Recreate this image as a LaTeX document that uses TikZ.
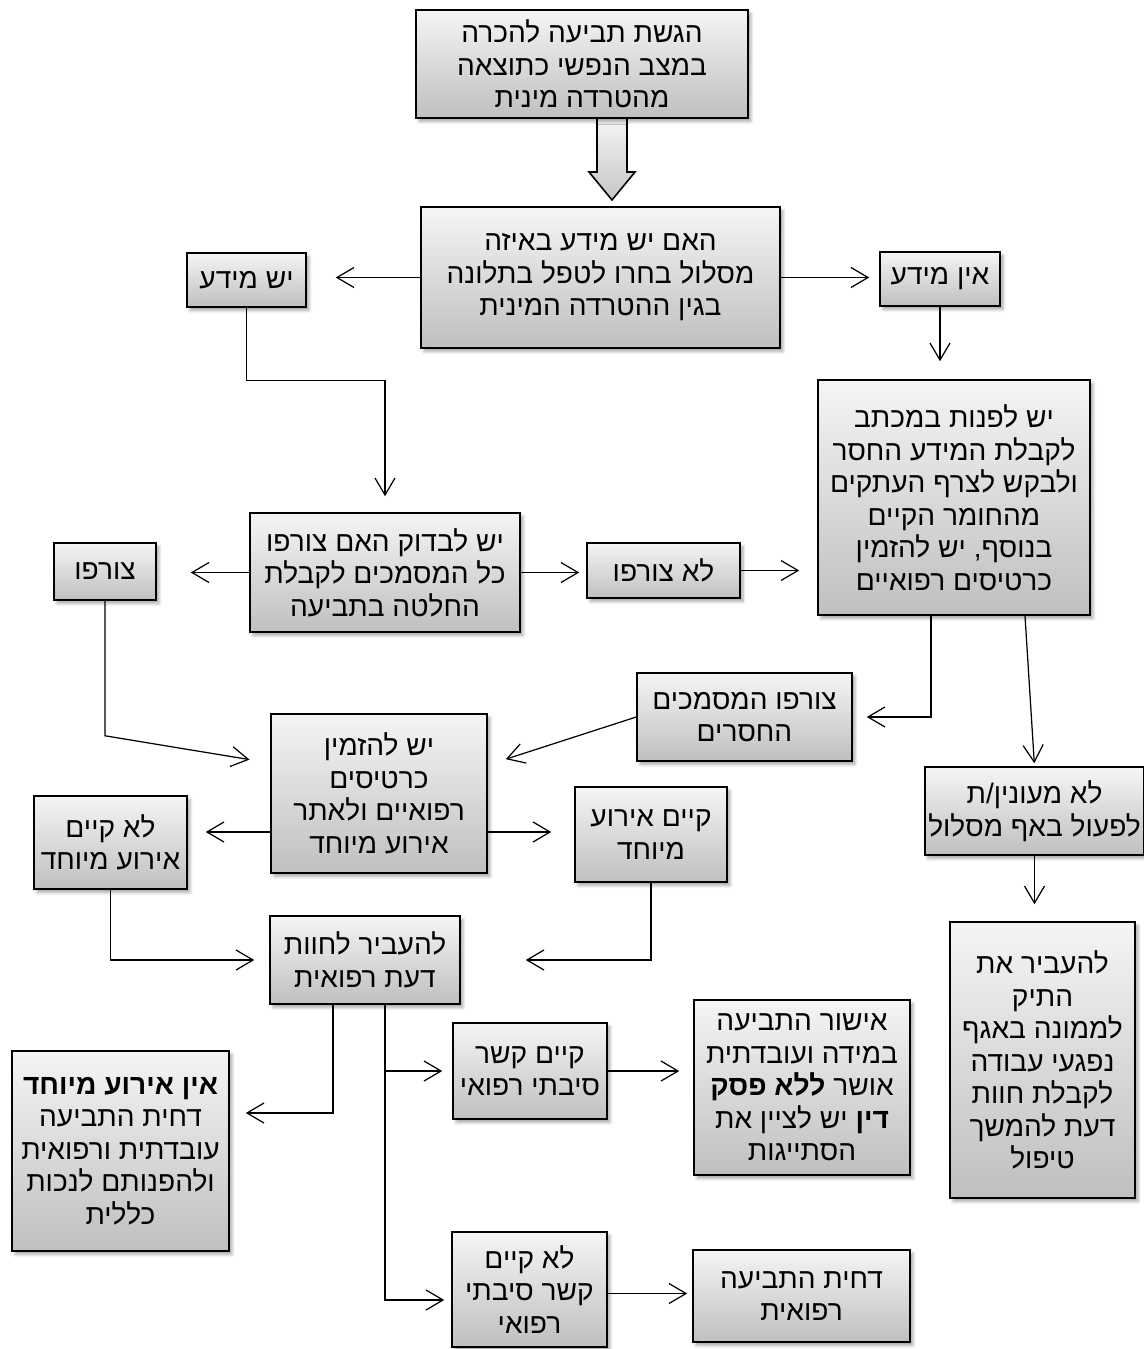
\documentclass[tikz,border=0pt]{standalone}
\usepackage{fontspec}
\usepackage{tikz}
\usetikzlibrary{arrows.meta,shadows.blur}
\TeXXeTstate=1
\newfontfamily\hebfont[Script=Hebrew]{Liberation Sans}
\newcommand{\heb}[1]{\beginR #1\endR}
\tikzset{
  box/.style={draw=black, line width=0.9pt, top color=gray!8, bottom color=gray!50, align=center, inner sep=2pt,
    font=\hebfont\fontsize{16}{18.5}\selectfont,
    blur shadow={shadow xshift=0.06cm, shadow yshift=-0.07cm, shadow blur steps=6, shadow opacity=35}},
  link/.style={line width=0.7pt, -{Straight Barb[length=0.34cm,width=0.4cm]}},
  bigarrow/.style={draw=black, line width=0.9pt, top color=gray!8, bottom color=gray!45}
}

\begin{document}
\begin{tikzpicture}[x=0.02cm, y=-0.02cm]
\useasboundingbox (0,0) rectangle (1143,1349);
\draw[bigarrow](597,118) -- (597,172) -- (589,172) -- (612,200) -- (635,172) -- (627,172) -- (627,118) -- cycle;
\node[box, minimum width=6.64cm, minimum height=2.16cm] (Submit) at (582,64) {\heb{הגשת תביעה להכרה}\\\heb{במצב הנפשי כתוצאה}\\\heb{מהטרדה מינית}};
\node[box, minimum width=7.18cm, minimum height=2.82cm] (Question) at (600.5,277.5) {\heb{האם יש מידע באיזה}\\\heb{מסלול בחרו לטפל בתלונה}\\\heb{בגין ההטרדה המינית}};
\node[box, minimum width=2.38cm, minimum height=1.08cm] (YesInfo) at (246.5,280) {\heb{יש מידע}};
\node[box, minimum width=2.40cm, minimum height=1.08cm] (NoInfo) at (940,279) {\heb{אין מידע}};
\node[box, minimum width=5.44cm, minimum height=4.70cm] (Letter) at (954,497.5) {\heb{יש לפנות במכתב}\\\heb{לקבלת המידע החסר}\\\heb{ולבקש לצרף העתקים}\\\heb{מהחומר הקיים}\\\heb{בנוסף, יש להזמין}\\\heb{כרטיסים רפואיים}};
\node[box, minimum width=5.40cm, minimum height=2.38cm] (Check) at (385,572.5) {\heb{יש לבדוק האם צורפו}\\\heb{כל המסמכים לקבלת}\\\heb{החלטה בתביעה}};
\node[box, minimum width=2.04cm, minimum height=1.14cm] (Attached) at (105,571.5) {\heb{צורפו}};
\node[box, minimum width=3.06cm, minimum height=1.10cm] (NotAttached) at (663.5,570.5) {\heb{לא צורפו}};
\node[box, minimum width=4.30cm, minimum height=1.76cm] (Missing) at (744.5,717) {\heb{צורפו המסמכים}\\\heb{החסרים}};
\node[box, minimum width=4.32cm, minimum height=3.18cm] (Invite) at (379,793.5) {\heb{יש להזמין}\\\heb{כרטיסים}\\\heb{רפואיים ולאתר}\\\heb{אירוע מיוחד}};
\node[box, minimum width=3.06cm, minimum height=1.86cm] (NoEvent) at (110.5,842.5) {\heb{לא קיים}\\\heb{אירוע מיוחד}};
\node[box, minimum width=3.04cm, minimum height=1.90cm] (Event) at (651,834.5) {\heb{קיים אירוע}\\\heb{מיוחד}};
\node[box, minimum width=4.26cm, minimum height=1.76cm] (NotInterested) at (1034.5,811) {\heb{לא מעונין/ת}\\\heb{לפעול באף מסלול}};
\node[box, minimum width=3.70cm, minimum height=5.52cm] (Transfer) at (1042.5,1060) {\heb{להעביר את}\\\heb{התיק}\\\heb{לממונה באגף}\\\heb{נפגעי עבודה}\\\heb{לקבלת חוות}\\\heb{דעת להמשך}\\\heb{טיפול}};
\node[box, minimum width=3.80cm, minimum height=1.76cm] (MedOpinion) at (365,960) {\heb{להעביר לחוות}\\\heb{דעת רפואית}};
\node[box, minimum width=4.34cm, minimum height=4.00cm] (Reject) at (120.5,1151) {\heb{\textbf{אין אירוע מיוחד}}\\\heb{דחית התביעה}\\\heb{עובדתית ורפואית}\\\heb{ולהפנותם לנכות}\\\heb{כללית}};
\node[box, minimum width=3.08cm, minimum height=1.92cm] (Causal) at (530,1071) {\heb{קיים קשר}\\\heb{סיבתי רפואי}};
\node[box, minimum width=4.32cm, minimum height=3.50cm] (Approve) at (802,1087.5) {\heb{אישור התביעה}\\\heb{במידה ועובדתית}\\\heb{אושר \textbf{ללא פסק}}\\\heb{\textbf{דין} יש לציין את}\\\heb{הסתייגות}};
\node[box, minimum width=3.10cm, minimum height=2.30cm] (NoCausal) at (529.5,1289.5) {\heb{לא קיים}\\\heb{קשר סיבתי}\\\heb{רפואי}};
\node[box, minimum width=4.34cm, minimum height=1.84cm] (MedReject) at (801.5,1296) {\heb{דחית התביעה}\\\heb{רפואית}};
\draw[link, shorten >=0.58cm] (Question.west) -- (Question.west -| YesInfo.east);
\draw[link, shorten >=0.2cm] (Question.east) -- (Question.east -| NoInfo.west);
\draw[link, shorten >=0.36cm] (NoInfo.south) -- (NoInfo.south |- Letter.north);
\draw[link, shorten >=0.32cm] (YesInfo.south) -- ++(0,73) -| (Check.north);
\draw[link, shorten >=0.68cm] (Check.west) -- (Check.west -| Attached.east);
\draw[link, shorten >=0.14cm] (Check.east) -- (Check.east -| NotAttached.west);
\draw[link, shorten >=0.36cm] (NotAttached.east) -- (NotAttached.east -| Letter.west);
\draw[link, shorten >=0.28cm] ([xshift=-0.46cm]Letter.south) |- (Missing.east);
\draw[link, shorten >=0.06cm] ([xshift=1.42cm]Letter.south) -- (NotInterested.north);
\draw[link, shorten >=0.42cm] (Attached.south) -- ++(0,135) -- ([yshift=0.61cm]Invite.west);
\draw[link, shorten >=0.38cm] (Missing.west) -- ([yshift=0.57cm]Invite.east);
\draw[link, shorten >=0.36cm] ([yshift=-0.77cm]Invite.west) -- ([yshift=-0.77cm]Invite.west -| NoEvent.east);
\draw[link, shorten >=0.46cm] ([yshift=-0.77cm]Invite.east) -- ([yshift=-0.77cm]Invite.east -| Event.west);
\draw[link, shorten >=0.34cm] (NotInterested.south) -- (NotInterested.south |- Transfer.north);
\draw[link, shorten >=0.3cm] (NoEvent.south) |- (MedOpinion.west);
\draw[link, shorten >=1.3cm] (Event.south) |- (MedOpinion.east);
\draw[link, shorten >=0.32cm] ([xshift=-0.64cm]MedOpinion.south) |- ([yshift=0.76cm]Reject.east);
\coordinate (Trunk) at ([xshift=0.4cm]MedOpinion.south);
\draw[link, shorten >=0.14cm] (Trunk) |- ([yshift=-0.21cm]NoCausal.west);
\draw[link, shorten >=0.2cm] (Causal.west -| Trunk) -- (Causal.west);
\draw[link, shorten >=0.28cm] (Causal.east) -- (Causal.east -| Approve.west);
\draw[link, shorten >=0.1cm] ([yshift=-0.08cm]NoCausal.east) -- ([yshift=-0.08cm]NoCausal.east -| MedReject.west);
\end{tikzpicture}
\end{document}
